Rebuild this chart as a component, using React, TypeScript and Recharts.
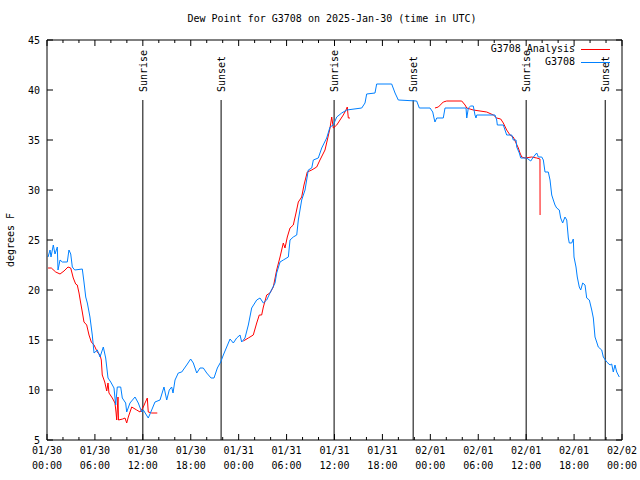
import { LineChart, Line, XAxis, YAxis, ReferenceLine } from 'recharts'

// hours since 01/30 00:00 UTC
const obsTimes = [
  0.13, 0.38, 0.5, 0.79, 1.0, 1.29, 1.38, 1.63, 1.92, 2.54, 2.75, 2.97, 3.17, 3.47, 4.42, 4.63,
  4.85, 5.05, 5.38, 5.67, 5.89, 6.3, 6.64, 7.05, 7.35, 7.64, 7.98, 8.39, 8.6, 8.8, 9.23, 9.43,
  9.85, 9.98, 10.39, 11.02, 11.43, 11.86, 12.06, 12.68, 13.11, 13.52, 14.15, 14.65, 14.99, 15.31,
  15.61, 15.78, 16.03, 16.44, 16.87, 17.49, 17.99, 18.32, 18.75, 19.16, 19.57, 20.0, 20.54, 20.91,
  21.33, 21.75, 22.08, 22.5, 22.92, 23.33, 23.75, 24.17, 24.38, 24.79, 25.21, 25.63, 26.26, 26.67,
  27.09, 27.51, 27.92, 28.55, 28.76, 29.18, 29.59, 30.22, 30.43, 30.84, 31.27, 31.47, 31.89, 32.31,
  32.72, 33.15, 33.35, 33.97, 34.4, 35.02, 35.44, 35.85, 36.28, 36.9, 37.53, 39.41, 39.82, 40.03,
  41.07, 41.28, 43.16, 43.58, 43.99, 46.29, 46.62, 47.96, 48.3, 48.46, 48.58, 48.8, 49.62, 49.84,
  52.47, 52.56, 52.76, 53.06, 53.38, 53.59, 53.72, 53.81, 56.1, 56.31, 56.39, 57.14, 57.35, 57.56,
  58.19, 58.39, 58.73, 58.82, 59.14, 59.32, 60.07, 60.57, 60.82, 61.11, 61.32, 61.52, 61.95, 62.15,
  62.36, 62.77, 62.99, 63.2, 63.4, 63.61, 63.82, 64.15, 64.32, 64.57, 64.86, 65.08, 65.28, 65.4,
  65.7, 65.9, 65.99, 66.24, 66.4, 66.65, 66.83, 67.08, 67.37, 67.58, 67.91, 68.21, 68.41, 68.62,
  68.83, 69.03, 69.46, 69.66, 70.09, 70.5, 70.71, 70.91, 71.12, 71.34, 71.66,
]
const obsValues = [
  23.3, 24.0, 23.3, 24.5, 23.6, 24.3, 22.0, 23.0, 22.8, 22.8, 24.0, 23.6, 22.3, 22.0, 22.1, 20.8,
  19.3, 18.7, 17.3, 15.5, 13.7, 14.0, 13.3, 14.3, 13.2, 11.2, 10.8, 10.2, 8.5, 10.3, 10.3, 9.2,
  8.7, 7.8, 8.7, 9.3, 8.7, 7.8, 8.0, 7.2, 8.0, 8.8, 9.0, 10.3, 9.0, 10.0,
  10.3, 9.7, 11.0, 11.7, 11.8, 12.5, 13.1, 12.7, 11.7, 12.2, 12.2, 11.7, 11.2, 11.2,
  12.2, 12.8, 13.5, 14.3, 15.1, 14.7, 15.2, 15.5, 14.8, 15.2, 16.5, 18.2, 19.0, 19.2,
  18.7, 19.0, 19.7, 20.7, 21.7, 22.8, 23.0, 23.3, 25.0, 25.3, 25.5, 27.0, 29.0, 30.0,
  32.0, 32.2, 33.0, 33.2, 34.2, 35.2, 36.3, 36.5, 37.3, 37.7, 38.0, 38.2, 38.7, 39.6,
  39.7, 40.6, 40.6, 39.7, 39.0, 38.9, 38.2, 38.2, 37.8, 37.2, 36.8, 37.2, 37.2, 38.2,
  38.2, 37.2, 38.2, 38.4, 38.4, 37.5, 37.2, 37.5, 37.5, 37.0, 36.5, 36.5, 36.0, 35.5,
  35.5, 35.0, 35.0, 34.3, 33.7, 33.2, 33.2, 32.9, 33.2, 33.5, 33.7, 33.3, 33.3, 33.0,
  31.8, 31.8, 31.0, 29.5, 29.0, 28.5, 28.2, 28.0, 27.2, 26.7, 27.3, 27.0, 25.2, 24.7,
  24.7, 25.1, 23.3, 22.3, 21.3, 20.3, 20.0, 20.7, 20.5, 19.2, 19.0, 18.0, 17.2, 15.3,
  14.8, 14.3, 14.0, 13.3, 12.8, 12.5, 12.6, 11.8, 12.5, 11.8, 11.3,
]

// analysis series, null = gap
const anaTimes = [
  0.13, 0.54, 1.09, 1.63, 2.13, 2.63, 2.97, 3.29, 3.59, 3.79, 4.01, 4.22, 4.42, 4.63, 4.97, 5.26,
  5.55, 5.89, 6.3, 6.64, 6.8, 6.92, 7.23, 7.48, 7.64, 7.76, 8.18, 8.51, 8.64, 8.73, 8.89, 8.95,
  9.48, 9.77, 9.98, 10.18, 10.61, 11.23, 11.65, 12.06, 12.27, 12.56, 12.68, 13.11, 13.81,
  14.0,
  24.58, 25.21, 25.83, 26.26, 26.58, 26.88, 27.09, 27.51, 27.92, 28.34, 28.76, 29.18, 29.59, 29.8,
  30.09, 30.43, 30.84, 31.18, 31.47, 31.89, 32.18, 32.59, 33.15, 33.77, 34.18, 34.81, 35.1, 35.44,
  35.65, 35.85, 36.28, 36.69, 37.1, 37.44, 37.6, 37.73, 37.94,
  40.0,
  48.58, 49.0, 49.62, 50.05, 51.93, 52.35, 52.56, 53.38, 54.22, 55.06, 55.89, 56.31, 56.81, 57.14,
  57.56, 57.98, 58.39, 58.73, 59.02, 59.23, 59.44, 59.86, 60.69, 61.32, 61.73, 61.74,
]
const anaValues = [
  22.2, 22.2, 21.8, 21.6, 21.9, 22.3, 22.2, 21.2, 20.6, 20.5, 19.7, 18.7, 17.8, 16.8, 16.5, 15.5,
  14.8, 14.5, 13.8, 13.5, 13.0, 11.5, 10.8, 9.9, 10.7, 9.7, 9.2, 8.7, 7.8, 7.0, 9.3, 7.0,
  7.1, 7.2, 6.7, 7.3, 8.3, 8.0, 7.8, 8.3, 8.7, 9.2, 7.8, 7.7, 7.7,
  null,
  14.9, 15.2, 15.5, 16.7, 17.5, 17.5, 18.3, 19.5, 19.7, 20.3, 22.0, 23.3, 24.7, 24.2,
  25.3, 26.2, 26.5, 27.7, 28.8, 29.3, 30.5, 31.8, 32.0, 32.3, 33.0, 34.0, 35.0, 36.2,
  37.3, 36.2, 36.5, 37.0, 37.5, 38.0, 38.3, 37.2, 37.2,
  null,
  38.2, 38.3, 38.8, 38.9, 38.9, 38.5, 38.2, 38.0, 37.9, 37.8, 37.5, 37.2, 37.1, 36.7,
  36.0, 35.5, 35.3, 34.7, 34.2, 33.7, 33.3, 33.2, 33.3, 33.2, 33.1, 27.5,
]

const sunTimes = [12.0, 21.8, 35.95, 45.85, 60.0, 69.9]
const sunLabels = ['Sunrise', 'Sunset', 'Sunrise', 'Sunset', 'Sunrise', 'Sunset']

const yTicks = [5, 10, 15, 20, 25, 30, 35, 40, 45]
const majorTicks = [0, 6, 12, 18, 24, 30, 36, 42, 48, 54, 60, 66, 72]
const majorDates = ['01/30', '01/30', '01/30', '01/30', '01/31', '01/31', '01/31', '01/31', '02/01', '02/01', '02/01', '02/01', '02/02']
const majorTimes = ['00:00', '06:00', '12:00', '18:00', '00:00', '06:00', '12:00', '18:00', '00:00', '06:00', '12:00', '18:00', '00:00']
const xTicks = [
  0, 2, 4, 6, 8, 10, 12, 14, 16, 18, 20, 22, 24, 26, 28, 30, 32, 34, 36,
  38, 40, 42, 44, 46, 48, 50, 52, 54, 56, 58, 60, 62, 64, 66, 68, 70, 72,
]

const obsData = obsTimes.map((t, i) => ({ t, v: obsValues[i] }))
const anaData = anaTimes.map((t, i) => ({ t, v: anaValues[i] }))

const FONT = '"DejaVu Sans Mono", monospace'
const RED = '#ff0000'
const BLUE = '#0080ff'

function BottomTick({ x, y, payload }: any) {
  const i = majorTicks.indexOf(payload.value)
  const major = i >= 0
  return (
    <g>
      <line x1={x} x2={x} y1={y} y2={y - (major ? 6 : 3)} stroke="#000" />
      {major && (
        <text x={x} y={y + 14} textAnchor="middle" fontFamily={FONT} fontSize={10} fill="#000">
          {majorDates[i]}
        </text>
      )}
      {major && (
        <text x={x} y={y + 28.5} textAnchor="middle" fontFamily={FONT} fontSize={10} fill="#000">
          {majorTimes[i]}
        </text>
      )}
    </g>
  )
}

function TopTick({ x, y, payload }: any) {
  const major = majorTicks.indexOf(payload.value) >= 0
  return <line x1={x} x2={x} y1={y} y2={y + (major ? 6 : 3)} stroke="#000" />
}

function LeftTick({ x, y, payload }: any) {
  return (
    <g>
      <line x1={x} x2={x + 6} y1={y} y2={y} stroke="#000" />
      <text x={x - 7} y={y + 4} textAnchor="end" fontFamily={FONT} fontSize={10} fill="#000">
        {payload.value}
      </text>
    </g>
  )
}

function RightTick({ x, y }: any) {
  return <line x1={x} x2={x - 6} y1={y} y2={y} stroke="#000" />
}

function SunLabel({ viewBox, text }: any) {
  if (!viewBox) return null
  const lx = viewBox.x + 4
  const ly = viewBox.y - 8
  return (
    <text
      x={lx}
      y={ly}
      transform={`rotate(-90 ${lx} ${ly})`}
      textAnchor="start"
      fontFamily={FONT}
      fontSize={10}
      fill="#000"
    >
      {text}
    </text>
  )
}

export default function App() {
  return (
    <div style={{ position: 'absolute', left: 0, top: 0, width: 640, height: 480, background: '#fff' }}>
      <div
        style={{
          position: 'absolute', left: 0, top: 13, width: 664, textAlign: 'center',
          fontFamily: FONT, fontSize: 10, color: '#000',
        }}
      >
        Dew Point for G3708 on 2025-Jan-30 (time in UTC)
      </div>
      <div
        style={{
          position: 'absolute', left: 10, top: 240, transform: 'translate(-50%, -50%) rotate(-90deg)',
          fontFamily: FONT, fontSize: 10, color: '#000', whiteSpace: 'nowrap',
        }}
      >
        degrees F
      </div>
      <LineChart width={640} height={480} data={obsData} margin={{ top: 0, right: 0, bottom: 0, left: 0 }}>
        <XAxis
          xAxisId="bottom"
          dataKey="t"
          type="number"
          domain={[0, 72]}
          ticks={xTicks}
          interval={0}
          height={40}
          tickSize={0}
          tickMargin={0}
          tickLine={false}
          axisLine={{ stroke: '#000' }}
          tick={<BottomTick />}
          allowDataOverflow
        />
        <XAxis
          xAxisId="top"
          orientation="top"
          dataKey="t"
          type="number"
          domain={[0, 72]}
          ticks={xTicks}
          interval={0}
          height={40}
          tickSize={0}
          tickMargin={0}
          tickLine={false}
          axisLine={{ stroke: '#000' }}
          tick={<TopTick />}
          allowDataOverflow
        />
        <YAxis
          yAxisId="left"
          type="number"
          domain={[5, 45]}
          ticks={yTicks}
          interval={0}
          width={47}
          tickSize={0}
          tickMargin={0}
          tickLine={false}
          axisLine={{ stroke: '#000' }}
          tick={<LeftTick />}
          allowDataOverflow
        />
        <YAxis
          yAxisId="right"
          orientation="right"
          type="number"
          domain={[5, 45]}
          ticks={yTicks}
          interval={0}
          width={18}
          tickSize={0}
          tickMargin={0}
          tickLine={false}
          axisLine={{ stroke: '#000' }}
          tick={<RightTick />}
          allowDataOverflow
        />
        {sunTimes.map((t, i) => (
          <ReferenceLine
            key={i}
            xAxisId="bottom"
            yAxisId="left"
            segment={[{ x: t, y: 5 }, { x: t, y: 39 }]}
            stroke="#000"
            strokeWidth={1}
            label={<SunLabel text={sunLabels[i]} />}
          />
        ))}
        <Line
          xAxisId="bottom"
          yAxisId="left"
          data={anaData}
          dataKey="v"
          stroke={RED}
          strokeWidth={1}
          dot={false}
          activeDot={false}
          isAnimationActive={false}
        />
        <Line
          xAxisId="bottom"
          yAxisId="left"
          data={obsData}
          dataKey="v"
          stroke={BLUE}
          strokeWidth={1}
          dot={false}
          activeDot={false}
          isAnimationActive={false}
        />
      </LineChart>
      <div style={{ position: 'absolute', left: 0, top: 43, width: 575, textAlign: 'right', fontFamily: FONT, fontSize: 10 }}>
        G3708 Analysis
      </div>
      <div style={{ position: 'absolute', left: 581, top: 49, width: 29, height: 1, background: RED }} />
      <div style={{ position: 'absolute', left: 0, top: 56, width: 575, textAlign: 'right', fontFamily: FONT, fontSize: 10 }}>
        G3708
      </div>
      <div style={{ position: 'absolute', left: 581, top: 62, width: 29, height: 1, background: BLUE }} />
    </div>
  )
}
